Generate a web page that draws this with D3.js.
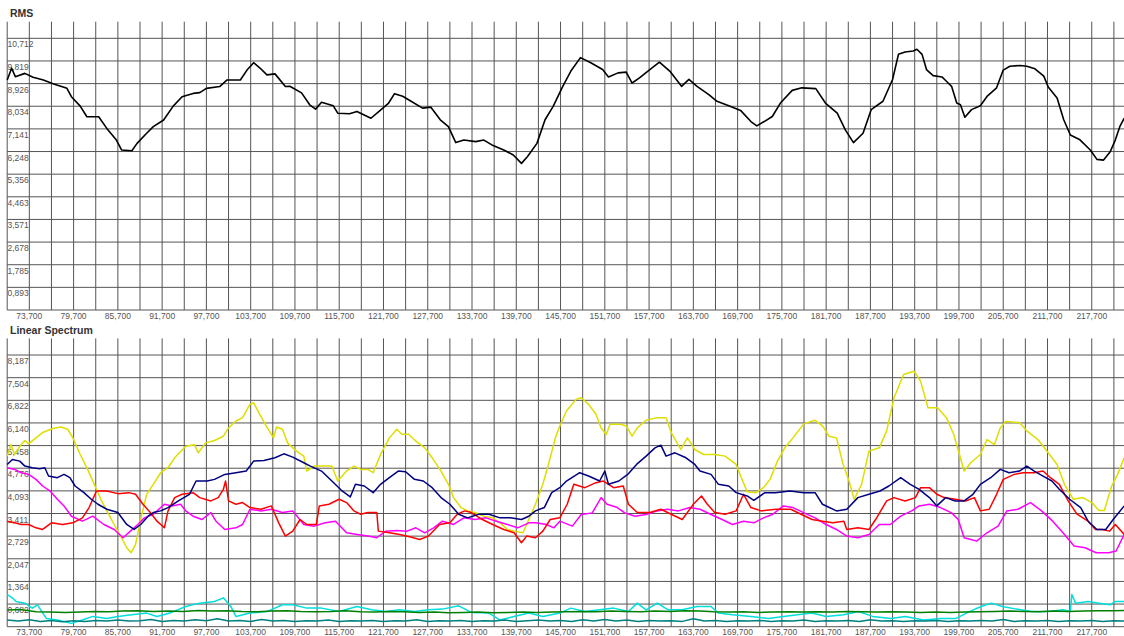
<!DOCTYPE html>
<html>
<head>
<meta charset="utf-8">
<script src="https://cdn.jsdelivr.net/npm/d3@7"></script>
<style>
  body { margin: 0; background: #fff; }
  svg { display: block; font-family: "Liberation Sans", Arial, sans-serif; }
</style>
</head>
<body>
<div id="vis"></div>
<script>
// ------------------------
// Data (time in s, value)
// ------------------------
const rmsTicks = [0.893, 1.785, 2.678, 3.571, 4.463, 5.356, 6.248, 7.141, 8.034, 8.926, 9.819, 10.712];
const specTicks = [0.682, 1.364, 2.047, 2.729, 3.411, 4.093, 4.776, 5.458, 6.140, 6.822, 7.504, 8.187];
const timeLabels = [73.7, 79.7, 85.7, 91.7, 97.7, 103.7, 109.7, 115.7, 121.7, 127.7, 133.7, 139.7, 145.7,
  151.7, 157.7, 163.7, 169.7, 175.7, 181.7, 187.7, 193.7, 199.7, 205.7, 211.7, 217.7];

const rms = [[70.7,9.07],[71.3,9.53],[71.8,9.20],[73.1,9.33],[74.2,9.18],[75.6,9.07],[77.0,8.91],[78.8,8.74],
  [79.4,8.41],[80.6,8.04],[81.5,7.62],[83.1,7.62],[84.2,7.16],[85.5,6.70],[86.2,6.31],[87.6,6.28],[88.3,6.57],
  [89.6,6.97],[90.5,7.23],[91.9,7.49],[93.2,8.04],[94.4,8.41],[95.9,8.54],[96.8,8.57],[97.7,8.74],[99.5,8.81],
  [100.5,9.07],[102.3,9.07],[103.2,9.46],[104.1,9.75],[105.0,9.53],[105.9,9.27],[107.0,9.31],[108.4,8.81],
  [109.0,8.82],[110.6,8.56],[111.7,8.09],[112.5,7.92],[113.3,8.19],[114.9,8.05],[115.5,7.76],[117.1,7.74],
  [118.1,7.83],[120.0,7.56],[121.1,7.83],[122.4,8.16],[123.2,8.53],[124.3,8.43],[125.1,8.29],[127.0,7.96],
  [128.1,8.00],[129.4,7.50],[130.5,7.23],[131.5,6.60],[132.6,6.70],[134.2,6.64],[135.3,6.70],[136.4,6.51],
  [138.0,6.31],[139.3,6.11],[140.4,5.78],[141.2,6.04],[142.5,6.57],[143.6,7.50],[144.7,8.03],[146.0,8.82],
  [147.1,9.42],[148.4,9.95],[149.8,9.75],[151.4,9.48],[152.2,9.19],[153.5,9.35],[154.6,9.38],[155.4,8.95],
  [156.4,9.15],[157.8,9.48],[159.1,9.77],[160.5,9.42],[162.1,8.82],[163.1,9.09],[164.2,8.82],[165.8,8.49],
  [166.9,8.23],[168.5,8.05],[170.1,7.87],[171.5,7.43],[172.3,7.26],[173.3,7.43],[174.4,7.63],[175.5,8.16],
  [177.1,8.66],[178.4,8.76],[180.3,8.73],[181.6,8.16],[183.2,7.76],[184.3,7.10],[185.4,6.60],[186.7,6.97],
  [187.8,7.90],[189.4,8.23],[190.7,9.09],[191.5,10.08],[192.4,10.17],[193.5,10.21],[194.0,10.28],[194.7,10.08],
  [195.3,9.48],[196.2,9.24],[197.4,9.19],[198.0,9.02],[198.7,8.82],[199.4,8.16],[199.9,8.09],[200.5,7.60],
  [201.4,7.90],[202.6,8.05],[203.5,8.42],[204.8,8.76],[205.7,9.46],[206.6,9.61],[208.0,9.64],[208.9,9.61],
  [210.0,9.51],[211.2,9.22],[211.8,8.79],[213.0,8.36],[213.9,7.50],[214.8,6.90],[216.1,6.71],[217.5,6.31],
  [218.4,5.94],[219.3,5.91],[220.2,6.24],[220.9,6.71],[221.5,7.23],[222.1,7.57]];

const yellow = [[70.7,5.14],[71.2,5.49],[71.7,5.19],[72.6,5.49],[73.1,5.61],[73.6,5.51],[74.6,5.69],[75.5,5.85],
  [77.0,5.98],[78.0,6.02],[78.9,5.95],[79.6,5.69],[80.6,5.19],[81.6,4.74],[82.5,4.29],[83.5,3.79],[84.2,3.49],
  [85.2,3.08],[86.2,2.68],[86.9,2.38],[87.5,2.23],[88.1,2.48],[88.8,3.23],[89.6,3.99],[90.5,4.29],[91.5,4.64],
  [92.5,4.79],[93.4,5.09],[94.9,5.44],[96.1,5.48],[96.6,5.24],[97.6,5.54],[98.8,5.61],[100.0,5.74],[100.7,5.99],
  [101.7,6.20],[102.6,6.30],[103.6,6.70],[104.1,6.75],[104.8,6.45],[105.8,6.05],[106.8,5.69],[107.2,6.02],
  [108.0,5.95],[108.7,5.54],[109.9,5.29],[110.9,5.14],[111.3,4.69],[112.3,4.84],[113.5,4.84],[114.7,4.84],
  [115.5,4.39],[116.7,4.69],[117.7,4.84],[118.6,4.74],[119.6,4.74],[120.3,4.64],[121.3,5.19],[122.5,5.69],
  [123.5,5.95],[124.2,5.80],[125.1,5.80],[126.1,5.59],[127.3,5.39],[128.3,5.09],[129.5,4.69],[130.5,4.29],
  [131.2,3.89],[132.2,3.59],[133.1,3.49],[134.1,3.44],[135.3,3.33],[136.5,3.28],[137.5,3.13],[138.5,2.93],
  [139.4,2.88],[140.6,2.83],[141.4,3.23],[142.3,3.69],[143.3,4.29],[144.3,5.09],[145.0,5.69],[145.6,6.05],
  [146.5,6.50],[147.8,6.85],[148.5,6.90],[149.5,6.70],[150.5,6.40],[151.2,5.99],[151.9,5.79],[152.4,6.10],
  [153.9,6.10],[154.6,6.05],[155.4,5.74],[156.1,5.99],[157.3,6.22],[158.8,6.30],[160.0,6.30],[160.7,5.85],
  [162.0,5.34],[162.9,5.69],[163.9,5.34],[165.1,5.19],[166.6,5.19],[168.0,5.14],[169.5,4.89],[170.2,4.49],
  [171.0,4.07],[172.2,4.04],[173.2,4.19],[174.1,4.44],[175.1,4.99],[176.1,5.39],[177.2,5.69],[178.7,6.12],
  [180.2,6.22],[181.2,6.05],[182.1,5.74],[183.1,5.69],[184.0,4.89],[184.8,4.39],[185.5,3.84],[186.5,4.29],
  [187.5,5.29],[188.9,5.39],[189.9,5.90],[190.9,6.90],[192.2,7.60],[193.6,7.70],[194.5,7.40],[195.5,6.60],
  [196.8,6.60],[198.0,6.30],[199.0,5.79],[199.7,5.24],[200.4,4.69],[201.3,4.94],[202.6,5.19],[203.5,5.64],
  [204.5,5.49],[205.3,5.99],[206.0,6.18],[207.9,6.15],[208.9,5.90],[210.4,5.64],[211.8,5.24],[213.0,4.89],
  [214.0,4.29],[215.2,3.84],[216.5,3.89],[217.7,3.74],[218.7,3.50],[219.4,3.50],[220.4,4.24],[221.2,4.59],
  [222.1,5.09]];

const navy = [[70.7,4.89],[71.4,5.04],[72.4,4.99],[73.1,4.84],[74.1,4.79],[75.1,4.76],[75.8,4.79],[76.3,4.54],
  [77.5,4.49],[78.4,4.59],[79.2,4.49],[79.9,4.24],[81.1,4.04],[82.1,3.84],[83.0,3.69],[84.2,3.54],[85.7,3.44],
  [86.9,3.08],[87.9,2.93],[88.8,3.08],[89.8,3.33],[90.5,3.44],[91.5,3.49],[92.5,3.59],[93.9,3.79],[95.4,3.99],
  [96.3,4.39],[97.8,4.39],[98.8,4.44],[100.2,4.59],[101.7,4.64],[103.1,4.69],[104.1,4.99],[105.5,5.01],
  [107.0,5.09],[108.2,5.21],[109.4,5.11],[110.9,4.94],[111.8,4.84],[113.3,4.69],[114.7,4.39],[116.0,4.11],
  [117.2,3.91],[117.9,4.29],[119.1,4.24],[120.3,4.04],[121.3,4.29],[122.5,4.49],[123.7,4.69],[124.7,4.67],
  [125.9,4.44],[127.1,4.39],[128.3,4.19],[129.5,3.89],[130.7,3.69],[131.9,3.39],[133.1,3.28],[134.6,3.39],
  [136.0,3.39],[137.5,3.28],[138.9,3.28],[140.4,3.23],[141.4,3.33],[142.3,3.49],[143.5,3.59],[144.5,4.04],
  [145.6,4.19],[146.5,4.39],[148.3,4.64],[149.5,4.54],[151.0,4.39],[151.7,4.69],[152.2,4.29],[153.6,4.39],
  [154.8,4.59],[156.0,4.89],[157.3,5.14],[158.5,5.39],[159.3,5.47],[160.0,5.14],[161.2,5.24],[162.7,5.09],
  [163.9,4.89],[164.6,4.69],[166.1,4.59],[167.1,4.29],[168.5,4.24],[169.5,4.04],[171.0,3.94],[171.9,3.81],
  [173.4,4.04],[174.8,4.04],[176.8,4.09],[178.7,4.04],[180.2,4.04],[181.2,3.69],[183.1,3.49],[184.5,3.54],
  [186.0,3.89],[187.5,3.99],[189.0,4.09],[190.2,4.24],[191.8,4.49],[193.1,4.29],[194.3,4.14],[195.7,3.89],
  [196.7,3.64],[197.9,3.89],[199.2,3.79],[200.4,3.79],[201.6,3.99],[202.6,4.29],[204.0,4.49],[205.3,4.74],
  [206.5,4.64],[207.9,4.69],[208.9,4.84],[209.9,4.69],[211.1,4.54],[212.3,4.39],[213.3,4.14],[214.7,3.84],
  [216.2,3.59],[217.2,3.18],[218.4,2.93],[219.6,2.93],[220.6,3.23],[222.1,3.64]];

const red = [[70.7,3.18],[71.7,3.13],[72.6,3.08],[73.6,3.08],[74.6,2.98],[75.5,2.93],[76.7,3.13],[78.2,3.08],
  [79.6,3.13],[80.9,3.28],[81.8,3.59],[82.8,4.09],[84.2,4.09],[85.7,4.01],[87.2,4.04],[88.1,3.99],[89.1,3.69],
  [90.1,3.44],[91.0,3.18],[92.0,2.98],[92.5,3.49],[93.4,3.89],[94.4,3.99],[95.9,4.04],[96.8,3.89],[98.3,3.79],
  [99.3,3.89],[100.0,4.14],[100.3,4.39],[100.7,3.79],[101.7,3.69],[102.6,3.74],[103.6,3.59],[105.1,3.54],
  [106.5,3.64],[107.5,3.13],[108.4,2.73],[109.4,2.88],[110.4,3.23],[111.3,3.08],[112.6,3.08],[113.0,3.64],
  [114.3,3.69],[115.7,3.84],[116.7,3.74],[117.7,3.49],[118.6,3.39],[119.6,3.44],[120.8,3.44],[121.0,2.88],
  [122.5,2.83],[123.9,2.78],[125.4,2.70],[126.6,2.63],[127.8,2.73],[129.3,3.08],[130.7,3.13],[131.7,3.39],
  [132.7,3.49],[133.6,3.44],[135.1,3.23],[136.5,3.08],[138.0,2.93],[139.4,2.83],[140.4,2.53],[141.1,2.73],
  [142.3,2.68],[143.3,2.88],[144.3,3.23],[145.6,3.28],[146.6,3.69],[147.5,4.29],[149.0,4.19],[150.5,4.34],
  [151.5,4.39],[152.9,4.19],[154.2,4.24],[154.9,3.69],[156.1,3.44],[157.8,3.44],[159.3,3.54],[160.7,3.39],
  [162.2,3.23],[163.7,3.69],[164.8,3.94],[165.6,3.69],[166.6,3.44],[168.0,3.39],[169.5,3.49],[170.5,3.99],
  [171.5,3.59],[172.9,3.49],[174.9,3.54],[176.9,3.54],[178.3,3.39],[179.8,3.23],[181.2,3.18],[182.6,3.13],
  [184.1,3.18],[184.5,2.93],[186.0,2.98],[187.5,2.93],[188.4,3.23],[189.9,3.79],[190.9,3.89],[192.4,3.79],
  [193.8,3.89],[194.5,4.19],[195.7,4.19],[196.7,3.99],[197.7,3.89],[199.2,3.84],[200.6,3.79],[201.8,3.89],
  [202.6,3.49],[203.8,3.54],[204.8,3.99],[205.7,4.44],[207.2,4.59],[208.4,4.64],[209.9,4.64],[211.1,4.69],
  [212.1,4.49],[213.3,4.29],[214.5,3.79],[215.7,3.39],[217.2,3.18],[218.2,2.93],[219.1,2.93],[220.1,2.88],
  [220.9,3.08],[222.1,2.78]];

const magenta = [[70.7,4.79],[71.7,4.74],[72.6,4.64],[73.6,4.59],[74.6,4.44],[75.5,4.24],[76.5,4.09],[77.5,3.84],
  [78.4,3.64],[79.4,3.33],[80.9,3.18],[82.3,3.33],[83.8,3.08],[85.2,2.93],[86.4,2.68],[87.4,2.88],[88.4,3.08],
  [89.3,3.28],[90.5,3.39],[92.0,3.69],[93.0,3.64],[94.2,3.69],[94.9,3.49],[95.9,3.33],[97.1,3.23],[98.3,3.44],
  [99.0,3.18],[100.2,2.93],[101.7,2.98],[102.6,3.08],[103.6,3.54],[105.1,3.49],[106.5,3.54],[108.0,3.44],
  [109.4,3.49],[110.9,3.08],[112.3,3.03],[113.8,3.13],[115.2,3.18],[116.7,2.83],[118.1,2.78],[119.6,2.73],
  [120.8,2.68],[122.0,2.88],[123.5,2.90],[124.9,2.88],[126.1,2.98],[127.3,2.83],[128.5,2.98],[129.7,3.18],
  [131.2,3.08],[132.6,3.28],[134.1,3.23],[135.6,3.28],[137.0,3.18],[138.5,3.08],[139.9,2.98],[141.4,3.13],
  [142.3,3.13],[143.8,3.08],[144.8,2.98],[145.6,3.18],[147.3,3.03],[148.5,3.38],[150.0,3.43],[151.2,3.89],
  [152.0,3.69],[153.4,3.59],[154.4,3.43],[155.8,3.33],[157.3,3.38],[158.8,3.49],[160.2,3.54],[161.7,3.49],
  [163.2,3.59],[164.6,3.54],[166.1,3.38],[167.6,3.23],[169.0,3.08],[170.5,3.18],[171.9,3.13],[173.2,3.28],
  [174.4,3.38],[175.9,3.64],[177.2,3.59],[178.7,3.43],[180.2,3.28],[181.7,3.08],[183.1,2.93],[184.5,2.73],
  [186.0,2.68],[187.5,2.78],[188.9,3.08],[190.4,3.08],[191.8,3.33],[193.3,3.49],[194.3,3.64],[195.7,3.69],
  [197.2,3.59],[198.7,3.43],[199.6,3.23],[200.4,2.68],[202.1,2.58],[203.5,2.83],[205.0,3.03],[206.2,3.49],
  [207.7,3.54],[209.4,3.74],[210.9,3.49],[212.4,3.18],[213.8,2.83],[215.3,2.43],[216.8,2.38],[218.3,2.23],
  [220.0,2.23],[221.0,2.28],[222.1,2.78]];

const cyan = [[70.7,0.97],[71.4,0.87],[71.9,0.76],[73.1,0.71],[74.1,0.56],[74.8,0.66],[76.0,0.25],[77.5,0.20],
  [79.4,0.10],[80.9,0.20],[82.3,0.31],[84.2,0.25],[85.7,0.31],[87.6,0.36],[89.6,0.41],[91.0,0.31],[93.0,0.43],
  [94.9,0.61],[96.8,0.71],[98.8,0.76],[100.0,0.87],[101.0,0.61],[101.7,0.31],[103.6,0.41],[106.0,0.46],
  [108.0,0.66],[109.4,0.66],[111.3,0.56],[113.3,0.56],[115.7,0.46],[118.1,0.61],[120.1,0.51],[122.0,0.46],
  [123.9,0.51],[125.9,0.46],[127.8,0.51],[129.7,0.53],[131.9,0.63],[133.6,0.43],[136.0,0.41],[137.5,0.20],
  [139.4,0.31],[141.4,0.41],[143.3,0.31],[145.6,0.41],[147.1,0.56],[149.0,0.46],[151.0,0.51],[152.9,0.56],
  [154.9,0.46],[156.1,0.71],[157.3,0.51],[158.8,0.71],[160.3,0.51],[162.2,0.51],[164.2,0.61],[166.1,0.61],
  [167.1,0.41],[169.0,0.36],[171.5,0.31],[173.9,0.25],[175.9,0.31],[177.8,0.36],[179.8,0.41],[181.7,0.31],
  [184.1,0.36],[186.1,0.46],[188.0,0.31],[190.5,0.25],[192.4,0.31],[194.9,0.20],[197.3,0.25],[199.3,0.25],
  [201.2,0.46],[202.7,0.61],[204.1,0.71],[205.6,0.61],[207.5,0.53],[209.5,0.46],[211.9,0.46],[213.8,0.51],
  [214.8,0.46],[215.0,0.97],[215.5,0.71],[217.2,0.76],[218.7,0.71],[220.2,0.66],[220.9,0.76],[222.1,0.76]];

const green = [[70.7,0.50],[72.5,0.52],[74.6,0.45],[76.5,0.44],[78.6,0.43],[80.5,0.44],[82.6,0.46],[84.5,0.45],
  [86.3,0.47],[88.4,0.48],[90.5,0.46],[92.6,0.47],[94.5,0.46],[96.6,0.49],[98.4,0.47],[100.5,0.48],[102.5,0.46],
  [104.6,0.45],[106.5,0.47],[108.6,0.48],[110.5,0.46],[112.5,0.45],[114.6,0.46],[116.5,0.48],[118.6,0.45],
  [120.5,0.44],[122.5,0.46],[124.6,0.45],[126.5,0.43],[128.6,0.44],[130.5,0.42],[132.6,0.43],[134.5,0.44],
  [136.6,0.42],[138.5,0.43],[140.6,0.44],[142.5,0.43],[144.6,0.44],[146.5,0.45],[148.6,0.46],[150.5,0.45],
  [152.6,0.47],[154.5,0.46],[156.6,0.45],[158.5,0.47],[160.6,0.46],[162.5,0.48],[164.6,0.47],[166.5,0.45],
  [168.6,0.44],[170.5,0.45],[172.6,0.43],[174.5,0.44],[176.6,0.45],[178.5,0.44],[180.6,0.45],[182.5,0.44],
  [184.6,0.46],[186.5,0.45],[188.6,0.44],[190.5,0.45],[192.6,0.44],[194.5,0.43],[196.6,0.44],[198.5,0.43],
  [200.6,0.44],[202.5,0.45],[204.6,0.46],[206.5,0.47],[208.6,0.46],[210.5,0.45],[212.6,0.47],[214.5,0.46],
  [216.6,0.47],[218.5,0.48],[220.6,0.48],[222.1,0.49]];

const teal = [[70.7,0.20],[72.2,0.17],[73.7,0.21],[75.2,0.16],[76.7,0.19],[78.2,0.15],[79.7,0.18],[81.2,0.16],
  [82.7,0.19],[84.2,0.17],[85.7,0.20],[87.2,0.17],[88.7,0.18],[90.2,0.22],[91.7,0.16],[93.2,0.19],[94.7,0.17],
  [96.2,0.21],[97.7,0.18],[99.2,0.24],[100.7,0.17],[102.2,0.19],[103.7,0.16],[105.2,0.22],[106.7,0.17],
  [108.2,0.19],[109.7,0.16],[111.2,0.18],[112.7,0.17],[114.2,0.20],[115.7,0.16],[117.2,0.18],[118.7,0.17],
  [120.2,0.19],[121.7,0.16],[123.2,0.18],[124.7,0.17],[126.2,0.21],[127.7,0.16],[129.2,0.18],[130.7,0.17],
  [132.2,0.19],[133.7,0.16],[135.2,0.18],[136.7,0.17],[138.2,0.20],[139.7,0.16],[141.2,0.18],[142.7,0.20],
  [144.2,0.17],[145.7,0.19],[147.2,0.16],[148.7,0.21],[150.2,0.17],[151.7,0.22],[153.2,0.17],[154.7,0.20],
  [156.2,0.16],[157.7,0.19],[159.2,0.17],[160.7,0.18],[162.2,0.16],[163.7,0.24],[165.2,0.17],[166.7,0.19],
  [168.2,0.16],[169.7,0.18],[171.2,0.17],[172.7,0.19],[174.2,0.16],[175.7,0.18],[177.2,0.17],[178.7,0.20],
  [180.2,0.16],[181.7,0.18],[183.2,0.17],[184.7,0.19],[186.2,0.16],[187.7,0.21],[189.2,0.17],[190.7,0.18],
  [192.2,0.16],[193.7,0.18],[195.2,0.17],[196.7,0.19],[198.2,0.16],[199.7,0.18],[201.2,0.17],[202.7,0.19],
  [204.2,0.17],[205.7,0.22],[207.2,0.16],[208.7,0.18],[210.2,0.17],[211.7,0.19],[213.2,0.16],[214.7,0.18],
  [216.2,0.17],[217.7,0.19],[219.2,0.16],[220.7,0.18],[222.1,0.17]];

// ------------------------
// Layout
// ------------------------
const width = 1124, height = 636;
const gridPx = 22.64;          // pixel height of one y step
const plotHeight = 288.3;

const svg = d3.select("#vis")
  .append("svg")
  .attr("width", width)
  .attr("height", height);

const x = d3.scaleLinear()
  .domain([70.7, 222.07])
  .range([7.2, width]);

const fmt = d3.formatLocale({ decimal: ",", thousands: ".", grouping: [3], currency: ["", ""] }).format(".3f");
const gridX = d3.range(73.7, 222.07, 3);

const line = (y) => d3.line()
  .x(d => x(d[0]))
  .y(d => y(d[1]));

function panel(title, bottom, ticks, series) {
  const top = bottom - plotHeight;
  const y = d3.scaleLinear()
    .domain([0, ticks[ticks.length - 1]])
    .range([bottom, bottom - 12 * gridPx]);

  const g = svg.append("g");

  g.append("text")
    .attr("x", 10)
    .attr("y", top - 4.5)
    .attr("font-size", "10.5px")
    .attr("font-weight", "bold")
    .attr("fill", "#333")
    .text(title);

  // grid
  g.selectAll("line.h")
    .data(ticks)
    .enter().append("line")
    .attr("x1", x(70.7)).attr("x2", width)
    .attr("y1", d => y(d)).attr("y2", d => y(d))
    .attr("stroke", "#555");

  g.selectAll("line.v")
    .data(gridX)
    .enter().append("line")
    .attr("x1", d => x(d)).attr("x2", d => x(d))
    .attr("y1", top).attr("y2", bottom)
    .attr("stroke", "#555");

  // y labels sit just under their gridline
  g.selectAll("text.ylab")
    .data(ticks)
    .enter().append("text")
    .attr("x", 7.5)
    .attr("y", d => y(d) + 9)
    .attr("font-size", "8.5px")
    .attr("fill", "#555")
    .text(d => fmt(d));

  // axes
  g.append("line")
    .attr("x1", x(70.7)).attr("x2", x(70.7))
    .attr("y1", top).attr("y2", bottom)
    .attr("stroke", "#555");
  g.append("line")
    .attr("x1", x(70.7)).attr("x2", width)
    .attr("y1", bottom).attr("y2", bottom)
    .attr("stroke", "#555");

  g.selectAll("text.xlab")
    .data(timeLabels)
    .enter().append("text")
    .attr("x", d => x(d))
    .attr("y", bottom + 8.5)
    .attr("text-anchor", "middle")
    .attr("font-size", "8.5px")
    .attr("fill", "#555")
    .text(d => fmt(d));

  series.forEach(s => {
    g.append("path")
      .datum(s.data)
      .attr("fill", "none")
      .attr("stroke", s.color)
      .attr("stroke-width", s.width || 1.5)
      .attr("stroke-linejoin", "round")
      .attr("d", line(y));
  });
}

panel("RMS", 310, rmsTicks, [
  { data: rms, color: "#000", width: 1.6 }
]);

panel("Linear Spectrum", 626.7, specTicks, [
  { data: cyan, color: "#00dede" },
  { data: teal, color: "#008080" },
  { data: green, color: "#008000" },
  { data: yellow, color: "#dede00" },
  { data: magenta, color: "#ff00ff" },
  { data: red, color: "#ff0000" },
  { data: navy, color: "#000080" }
]);
</script>
</body>
</html>
